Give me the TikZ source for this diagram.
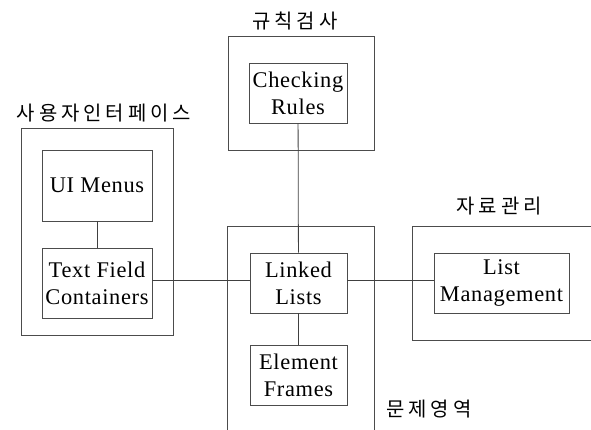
\documentclass[tikz,border=0pt]{standalone}
\usepackage{fontspec}
\setmainfont{Liberation Serif}[LetterSpace=3]
\newfontfamily\kr[LetterSpace=20]{Noto Sans CJK KR}
\begin{document}
\begin{tikzpicture}[x=1bp,y=-1bp,
  inner/.style={draw=black!70,line width=0.9pt,minimum width=#1,minimum height=60bp,inner sep=0pt,align=center,font=\fontsize{22.5}{27}\selectfont},
  outer/.style={draw=black!70,line width=0.9pt,inner sep=0pt},
  grp/.style={font=\kr\fontsize{20}{22}\selectfont,inner sep=0pt},
  link/.style={draw=black!75,line width=0.8pt}]
\useasboundingbox (0,0) rectangle (591,429);
\clip (0,0) rectangle (591,429);
% outer boxes
\node[outer,minimum width=152bp,minimum height=207bp] (ob1) at (97,231.5) {};
\node[outer,minimum width=146bp,minimum height=114bp] (ob2) at (301,93) {};
\node[outer,minimum width=147bp,minimum height=220bp] (ob3) at (300.5,336) {};
\node[outer,minimum width=190bp,minimum height=114bp] (ob4) at (507,283) {};
% group labels
\node[grp] (g1) at (104,113) {사용자인터페이스};
\node[grp] (g2) at (295,21) {규칙검사};
\node[grp] (g3) at (499,206) {자료관리};
\node[grp] (g4) at (429,409) {문제영역};
% inner boxes
\node[inner=110bp,minimum height=71bp] (ui) at (97,185.5) {UI Menus};
\node[inner=110bp,minimum height=70bp] (tfc) at (97,283) {Text Field\\Containers};
\node[inner=98bp] (cr) at (298,93) {Checking\\Rules};
\node[inner=97bp] (ll) at (298.5,283) {Linked\\Lists};
\node[inner=97bp] (ef) at (298.5,375) {Element\\Frames};
\node[inner=135bp] (lm) at (501.5,283) {List\\Management};
% connectors
\draw[link] (ui) -- (tfc);
\draw[link] (cr) -- (ll);
\draw[link] (ll) -- (ef);
\draw[link] ([yshift=3bp]tfc.east) -- ([yshift=3bp]ll.west);
\draw[link] ([yshift=3bp]ll.east) -- ([yshift=3bp]lm.west);
\end{tikzpicture}
\end{document}
